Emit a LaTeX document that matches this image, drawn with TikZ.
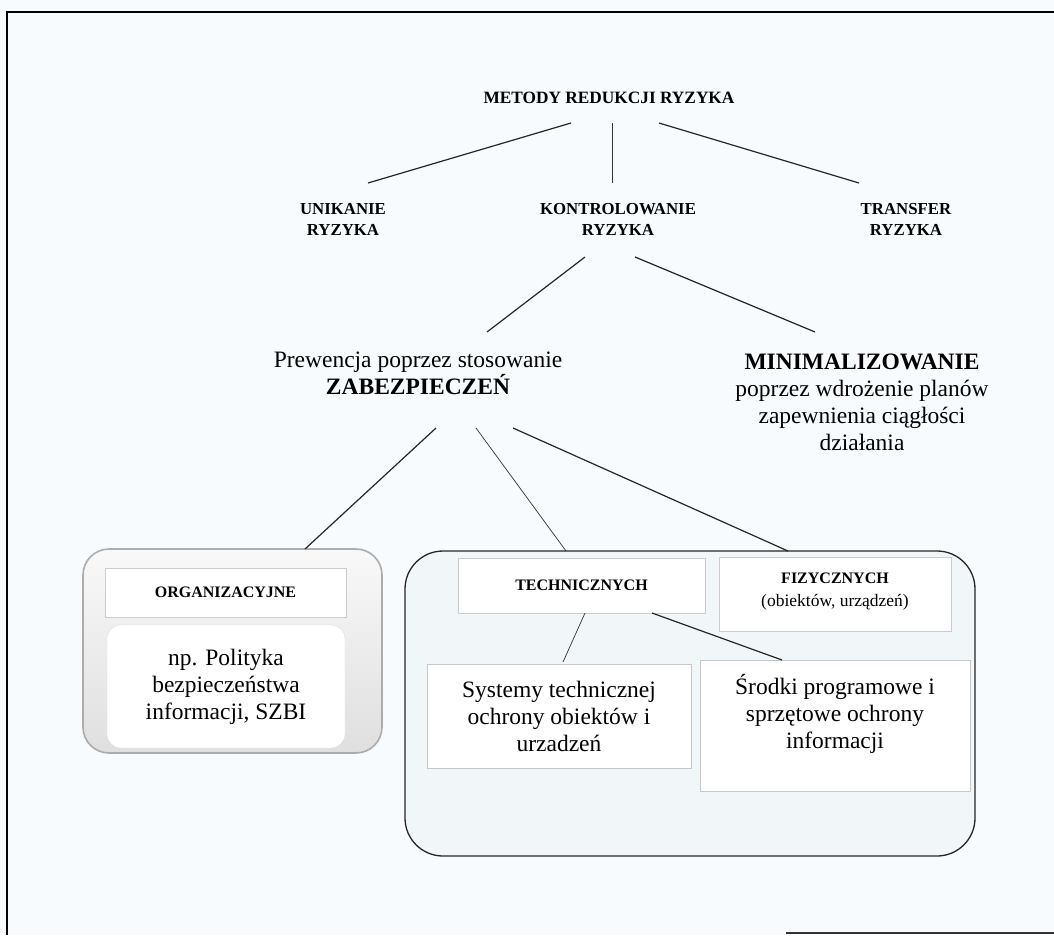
\documentclass[tikz,border=0pt]{standalone}
\usepackage{fontspec}
\setmainfont{Liberation Serif}
\begin{document}
\begin{tikzpicture}[x=1pt,y=-1pt,
  every node/.style={inner sep=0pt, align=center},
  capsmall/.style={font=\bfseries\fontsize{16.8}{21}\selectfont},
  captitle/.style={font=\bfseries\fontsize{17.3}{22}\selectfont},
  body/.style={font=\fontsize{23.5}{27}\selectfont},
  link/.style={draw=black!85, line width=1.2pt},
  thinlink/.style={draw=black!80, line width=0.7pt},
  orgouter/.style={rounded corners=26pt, draw=gray!65, line width=1.6pt,
    top color=gray!5, bottom color=gray!25},
  techouter/.style={rounded corners=38pt, draw=black!85, line width=1.3pt,
    fill={rgb,255:red,241;green,246;blue,249}},
  labelbox/.style={draw=gray!40, line width=0.8pt, fill=white},
  textbox/.style={draw=gray!45, line width=0.9pt, fill=white},
]
\definecolor{paper}{RGB}{247,251,253}
\useasboundingbox (0,0) rectangle (1054,935);
\fill[paper] (0,0) rectangle (1054,935);

% outer frame
\draw[black, line width=2pt] (1054,12) -- (7,12) -- (7,935);
\draw[black!80, line width=1.6pt] (786,933) -- (1054,933);

% top level
\node[captitle] (metody) at (609,98) {METODY REDUKCJI RYZYKA};
\node[capsmall] (unik) at (343,219) {UNIKANIE\\RYZYKA};
\node[capsmall] (kontrol) at (618,219) {KONTROLOWANIE\\RYZYKA};
\node[capsmall] (transfer) at (906,219) {TRANSFER\\RYZYKA};

% second level
\node[body] (prew) at (418,373) {Prewencja poprzez stosowanie\\\textbf{ZABEZPIECZEŃ}};
\node[body] (mini) at (862,402) {\textbf{MINIMALIZOWANIE}\\poprzez wdrożenie planów\\zapewnienia ciągłości\\działania};

% organisational measures
\node[orgouter, minimum width=299, minimum height=204] (org) at (232.5,651) {};
\node[labelbox, minimum width=241, minimum height=49, font=\bfseries\fontsize{16}{19}\selectfont] (orglabel) at (225.5,592.5) {ORGANIZACYJNE};
\node[draw=gray!25, fill=white, rounded corners=14pt, minimum width=238, minimum height=123, body] (policy) at (226,686.5) {np. Polityka\\bezpieczeństwa\\informacji, SZBI};

% technical and physical measures
\node[techouter, minimum width=570, minimum height=305] (tech) at (690,703.5) {};
\node[labelbox, minimum width=247, minimum height=55, font=\bfseries\fontsize{16}{19}\selectfont] (techlabel) at (581.5,585.5) {TECHNICZNYCH};
\node[labelbox, minimum width=232, minimum height=74] (fizbox) at (835,594) {};
\node[font=\fontsize{17.5}{23}\selectfont] (fizlabel) at (835,592) {{\bfseries\fontsize{16}{19}\selectfont FIZYCZNYCH}\\(obiektów, urządzeń)};
\node[textbox, minimum width=264, minimum height=104, body] (systemy) at (559,716) {Systemy technicznej\\ochrony obiektów i\\urzadzeń};
\node[textbox, minimum width=270, minimum height=131] (srodkibox) at (835,725.5) {};
\node[body] (srodki) at (835,714) {Środki programowe i\\sprzętowe ochrony\\informacji};

% connector ends
\coordinate (mL) at (571,123);  \coordinate (unikT) at (368,183);
\coordinate (mC) at (612,123);  \coordinate (kontrolT) at (612,183);
\coordinate (mR) at (659,123);  \coordinate (transferT) at (859,183);
\coordinate (kL) at (585,257);  \coordinate (prewT) at (487,332);
\coordinate (kR) at (635,257);  \coordinate (miniT) at (815,332);
\coordinate (zL) at (436,428);  \coordinate (orgT) at (305,549);
\coordinate (zC) at (476,428);  \coordinate (techT) at (566,551);
\coordinate (zR) at (513,428);  \coordinate (techTR) at (788,551);
\coordinate (tL) at (585,613);  \coordinate (systemyT) at (563,662);
\coordinate (tR) at (652,613);  \coordinate (srodkiT) at (782,660);

\draw[link] (mL) -- (unikT);
\draw[thinlink] (mC) -- (kontrolT);
\draw[link] (mR) -- (transferT);
\draw[link] (kL) -- (prewT);
\draw[link] (kR) -- (miniT);
\draw[link] (zL) -- (orgT);
\draw[thinlink] (zC) -- (techT);
\draw[link] (zR) -- (techTR);
\draw[thinlink] (tL) -- (systemyT);
\draw[link] (tR) -- (srodkiT);
\end{tikzpicture}
\end{document}
